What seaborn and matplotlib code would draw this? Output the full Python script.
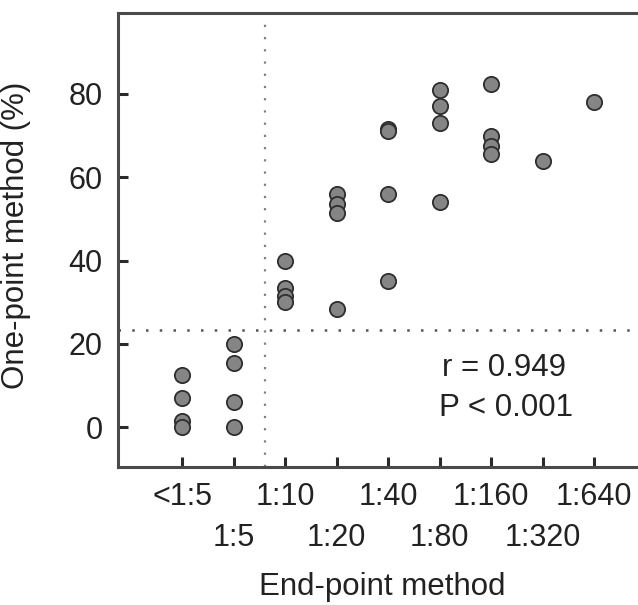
import pandas as pd
import matplotlib
matplotlib.use("Agg")
import matplotlib.pyplot as plt
import seaborn as sns

# ------------------------------
# Data
# ------------------------------
categories = ['<1:5', '1:5', '1:10', '1:20', '1:40', '1:80', '1:160', '1:320', '1:640']
vals_lt5 = [12.5, 7, 1.5, 0]
vals_5 = [20, 15.5, 6, 0]
vals_10 = [40, 33.5, 31.5, 30]
vals_20 = [56, 53.5, 51.5, 28.5]
vals_40 = [71.5, 71, 56, 35]
vals_80 = [81, 77, 73, 54]
vals_160 = [82.5, 70, 67.5, 65.5]
vals_320 = [64]
vals_640 = [78]
series = [vals_lt5, vals_5, vals_10, vals_20, vals_40, vals_80, vals_160, vals_320, vals_640]

cut_x = 1.6     # end-point cut-off (between 1:5 and 1:10)
cut_y = 23.4    # one-point cut-off (%)
r_text = "r = 0.949"
p_text = "P < 0.001"

rows = []
for cat, vals in zip(categories, series):
    for v in vals:
        rows.append({'endpoint': cat, 'onepoint': v})
df = pd.DataFrame(rows)

# ------------------------------
# Plot
# ------------------------------
sns.set_style("ticks")
plt.rcParams['font.family'] = ['Liberation Sans', 'DejaVu Sans']
plt.rcParams.update({
    'xtick.direction': 'in', 'ytick.direction': 'in',
    'xtick.major.size': 7, 'ytick.major.size': 7,
    'xtick.major.width': 2.2, 'ytick.major.width': 2.2,
    'xtick.color': '#2a2a2a', 'ytick.color': '#2a2a2a',
    'xtick.labelcolor': '#222222', 'ytick.labelcolor': '#222222',
    'xtick.labelsize': 22, 'ytick.labelsize': 22,
    'xtick.major.pad': 11, 'ytick.major.pad': 11,
})

fig = plt.figure(figsize=(6.38, 6.05), dpi=100)
ax = fig.add_axes([118 / 638, (605 - 466.5) / 605, 520 / 638, 453.8 / 605])

sns.stripplot(data=df, x='endpoint', y='onepoint', order=categories, jitter=False,
              color='#858585', edgecolor='#2e2e2e', linewidth=1.3, size=11, ax=ax, zorder=3)

ax.axvline(cut_x, color='#808080', linestyle=(0, (1, 4.5)), linewidth=1.6, zorder=1)
ax.axhline(cut_y, color='#555555', linestyle=(0, (1, 4.5)), linewidth=1.8, zorder=1)

ax.text(5.05, 14.2, r_text, fontsize=22.5, color='#222222', ha='left', va='center')
ax.text(4.98, 4.6, p_text, fontsize=22.5, color='#222222', ha='left', va='center')

ax.set_xlim(-1.25, 8.85)
ax.set_ylim(-9.4, 99.5)
ax.set_yticks([0, 20, 40, 60, 80])
ax.set_xticks(range(len(categories)))
# staggered x labels: odd categories drop to a second row
stagger = [c if i % 2 == 0 else '\n' + c for i, c in enumerate(categories)]
ax.set_xticklabels(stagger, linespacing=1.47)

for side in ['left', 'bottom', 'top']:
    ax.spines[side].set_linewidth(2.2)
    ax.spines[side].set_color('#4a4a4a')
ax.spines['right'].set_visible(False)

ax.tick_params(axis='both', which='major', direction='in', length=7, width=2.2,
               bottom=True, left=True, top=False, right=False)

ax.set_xlabel("End-point method", fontsize=22.5, color='#222222')
ax.set_ylabel("One-point method (%)", fontsize=22.5, color='#222222')
ax.xaxis.set_label_coords(0.508, -0.232)
ax.yaxis.set_label_coords(-0.168, 0.51)

fig.savefig("out.png", dpi=100)
